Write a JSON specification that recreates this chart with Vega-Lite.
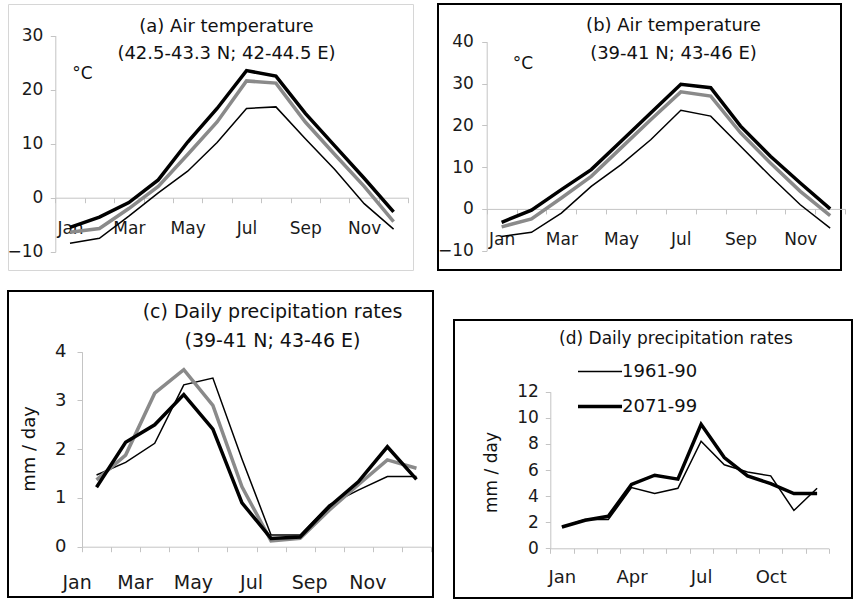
{
  "$schema": "https://vega.github.io/schema/vega-lite/v6.json",
  "padding": {"left": 6, "top": 3, "right": 0, "bottom": 0},
  "background": "white",
  "config": {"font": "DejaVu Sans", "axis": {"labelFont": "DejaVu Sans", "titleFont": "DejaVu Sans"}, "legend": {"labelFont": "DejaVu Sans"}},
  "datasets": {
    "a": [
      {"month": "Jan", "series": "1961-90", "value": -8.4}, {"month": "Feb", "series": "1961-90", "value": -7.5}, {"month": "Mar", "series": "1961-90", "value": -3.4}, {"month": "Apr", "series": "1961-90", "value": 0.9}, {"month": "May", "series": "1961-90", "value": 4.9}, {"month": "Jun", "series": "1961-90", "value": 10.2}, {"month": "Jul", "series": "1961-90", "value": 16.5}, {"month": "Aug", "series": "1961-90", "value": 16.8}, {"month": "Sep", "series": "1961-90", "value": 10.9}, {"month": "Oct", "series": "1961-90", "value": 5.2}, {"month": "Nov", "series": "1961-90", "value": -1.1}, {"month": "Dec", "series": "1961-90", "value": -5.8},
      {"month": "Jan", "series": "2071-99 (low)", "value": -6.4}, {"month": "Feb", "series": "2071-99 (low)", "value": -5.7}, {"month": "Mar", "series": "2071-99 (low)", "value": -2.0}, {"month": "Apr", "series": "2071-99 (low)", "value": 2.1}, {"month": "May", "series": "2071-99 (low)", "value": 8.0}, {"month": "Jun", "series": "2071-99 (low)", "value": 14.0}, {"month": "Jul", "series": "2071-99 (low)", "value": 21.6}, {"month": "Aug", "series": "2071-99 (low)", "value": 21.2}, {"month": "Sep", "series": "2071-99 (low)", "value": 14.0}, {"month": "Oct", "series": "2071-99 (low)", "value": 8.0}, {"month": "Nov", "series": "2071-99 (low)", "value": 2.1}, {"month": "Dec", "series": "2071-99 (low)", "value": -4.4},
      {"month": "Jan", "series": "2071-99", "value": -5.5}, {"month": "Feb", "series": "2071-99", "value": -3.6}, {"month": "Mar", "series": "2071-99", "value": -0.9}, {"month": "Apr", "series": "2071-99", "value": 3.3}, {"month": "May", "series": "2071-99", "value": 10.3}, {"month": "Jun", "series": "2071-99", "value": 16.5}, {"month": "Jul", "series": "2071-99", "value": 23.5}, {"month": "Aug", "series": "2071-99", "value": 22.5}, {"month": "Sep", "series": "2071-99", "value": 15.6}, {"month": "Oct", "series": "2071-99", "value": 9.6}, {"month": "Nov", "series": "2071-99", "value": 3.6}, {"month": "Dec", "series": "2071-99", "value": -2.6}
    ],
    "b": [
      {"month": "Jan", "series": "1961-90", "value": -6.6}, {"month": "Feb", "series": "1961-90", "value": -5.6}, {"month": "Mar", "series": "1961-90", "value": -1.0}, {"month": "Apr", "series": "1961-90", "value": 5.4}, {"month": "May", "series": "1961-90", "value": 10.6}, {"month": "Jun", "series": "1961-90", "value": 16.6}, {"month": "Jul", "series": "1961-90", "value": 23.6}, {"month": "Aug", "series": "1961-90", "value": 22.2}, {"month": "Sep", "series": "1961-90", "value": 15.0}, {"month": "Oct", "series": "1961-90", "value": 7.8}, {"month": "Nov", "series": "1961-90", "value": 1.0}, {"month": "Dec", "series": "1961-90", "value": -4.6},
      {"month": "Jan", "series": "2071-99 (low)", "value": -4.3}, {"month": "Feb", "series": "2071-99 (low)", "value": -2.4}, {"month": "Mar", "series": "2071-99 (low)", "value": 2.6}, {"month": "Apr", "series": "2071-99 (low)", "value": 7.8}, {"month": "May", "series": "2071-99 (low)", "value": 14.6}, {"month": "Jun", "series": "2071-99 (low)", "value": 21.4}, {"month": "Jul", "series": "2071-99 (low)", "value": 28.0}, {"month": "Aug", "series": "2071-99 (low)", "value": 27.0}, {"month": "Sep", "series": "2071-99 (low)", "value": 18.2}, {"month": "Oct", "series": "2071-99 (low)", "value": 11.0}, {"month": "Nov", "series": "2071-99 (low)", "value": 4.2}, {"month": "Dec", "series": "2071-99 (low)", "value": -1.6},
      {"month": "Jan", "series": "2071-99", "value": -3.2}, {"month": "Feb", "series": "2071-99", "value": -0.3}, {"month": "Mar", "series": "2071-99", "value": 4.6}, {"month": "Apr", "series": "2071-99", "value": 9.4}, {"month": "May", "series": "2071-99", "value": 16.2}, {"month": "Jun", "series": "2071-99", "value": 23.0}, {"month": "Jul", "series": "2071-99", "value": 29.8}, {"month": "Aug", "series": "2071-99", "value": 29.0}, {"month": "Sep", "series": "2071-99", "value": 19.8}, {"month": "Oct", "series": "2071-99", "value": 12.6}, {"month": "Nov", "series": "2071-99", "value": 6.2}, {"month": "Dec", "series": "2071-99", "value": 0.0}
    ],
    "c": [
      {"month": "Jan", "series": "1961-90", "value": 1.47}, {"month": "Feb", "series": "1961-90", "value": 1.73}, {"month": "Mar", "series": "1961-90", "value": 2.12}, {"month": "Apr", "series": "1961-90", "value": 3.32}, {"month": "May", "series": "1961-90", "value": 3.46}, {"month": "Jun", "series": "1961-90", "value": 1.8}, {"month": "Jul", "series": "1961-90", "value": 0.24}, {"month": "Aug", "series": "1961-90", "value": 0.24}, {"month": "Sep", "series": "1961-90", "value": 0.86}, {"month": "Oct", "series": "1961-90", "value": 1.16}, {"month": "Nov", "series": "1961-90", "value": 1.44}, {"month": "Dec", "series": "1961-90", "value": 1.44},
      {"month": "Jan", "series": "2071-99 (low)", "value": 1.37}, {"month": "Feb", "series": "2071-99 (low)", "value": 1.88}, {"month": "Mar", "series": "2071-99 (low)", "value": 3.15}, {"month": "Apr", "series": "2071-99 (low)", "value": 3.63}, {"month": "May", "series": "2071-99 (low)", "value": 2.9}, {"month": "Jun", "series": "2071-99 (low)", "value": 1.23}, {"month": "Jul", "series": "2071-99 (low)", "value": 0.12}, {"month": "Aug", "series": "2071-99 (low)", "value": 0.17}, {"month": "Sep", "series": "2071-99 (low)", "value": 0.75}, {"month": "Oct", "series": "2071-99 (low)", "value": 1.27}, {"month": "Nov", "series": "2071-99 (low)", "value": 1.78}, {"month": "Dec", "series": "2071-99 (low)", "value": 1.61},
      {"month": "Jan", "series": "2071-99", "value": 1.22}, {"month": "Feb", "series": "2071-99", "value": 2.14}, {"month": "Mar", "series": "2071-99", "value": 2.5}, {"month": "Apr", "series": "2071-99", "value": 3.12}, {"month": "May", "series": "2071-99", "value": 2.41}, {"month": "Jun", "series": "2071-99", "value": 0.9}, {"month": "Jul", "series": "2071-99", "value": 0.17}, {"month": "Aug", "series": "2071-99", "value": 0.2}, {"month": "Sep", "series": "2071-99", "value": 0.82}, {"month": "Oct", "series": "2071-99", "value": 1.33}, {"month": "Nov", "series": "2071-99", "value": 2.05}, {"month": "Dec", "series": "2071-99", "value": 1.38}
    ],
    "d": [
      {"month": "Jan", "series": "1961-90", "value": 1.63}, {"month": "Feb", "series": "1961-90", "value": 2.2}, {"month": "Mar", "series": "1961-90", "value": 2.2}, {"month": "Apr", "series": "1961-90", "value": 4.65}, {"month": "May", "series": "1961-90", "value": 4.2}, {"month": "Jun", "series": "1961-90", "value": 4.6}, {"month": "Jul", "series": "1961-90", "value": 8.2}, {"month": "Aug", "series": "1961-90", "value": 6.4}, {"month": "Sep", "series": "1961-90", "value": 5.85}, {"month": "Oct", "series": "1961-90", "value": 5.55}, {"month": "Nov", "series": "1961-90", "value": 2.9}, {"month": "Dec", "series": "1961-90", "value": 4.6},
      {"month": "Jan", "series": "2071-99", "value": 1.63}, {"month": "Feb", "series": "2071-99", "value": 2.15}, {"month": "Mar", "series": "2071-99", "value": 2.45}, {"month": "Apr", "series": "2071-99", "value": 4.9}, {"month": "May", "series": "2071-99", "value": 5.6}, {"month": "Jun", "series": "2071-99", "value": 5.3}, {"month": "Jul", "series": "2071-99", "value": 9.5}, {"month": "Aug", "series": "2071-99", "value": 6.95}, {"month": "Sep", "series": "2071-99", "value": 5.55}, {"month": "Oct", "series": "2071-99", "value": 4.95}, {"month": "Nov", "series": "2071-99", "value": 4.2}, {"month": "Dec", "series": "2071-99", "value": 4.2}
    ]
  },
  "spacing": 19,
  "resolve": {"scale": {"x": "independent", "y": "independent", "strokeWidth": "independent"}, "axis": {"x": "independent", "y": "independent"}, "legend": {"strokeWidth": "independent"}},
  "vconcat": [
    {
      "spacing": 22,
      "resolve": {"scale": {"x": "independent", "y": "independent", "strokeWidth": "independent"}, "axis": {"x": "independent", "y": "independent"}, "legend": {"strokeWidth": "independent"}},
      "hconcat": [
        {
          "width": 405, "height": 266,
          "view": {"stroke": "#d6d6d6", "strokeWidth": 1},
          "title": {"text": ["(a) Air temperature", "(42.5-43.3 N; 42-44.5 E)"], "anchor": "middle", "frame": "group", "offset": -59, "dx": 16, "baseline": "top", "fontSize": 18, "fontWeight": "normal", "font": "DejaVu Sans", "color": "#111111", "lineHeight": 27},
          "data": {"name": "a"},
          "encoding": {
            "x": {"field": "month", "type": "ordinal", "sort": ["Jan","Feb","Mar","Apr","May","Jun","Jul","Aug","Sep","Oct","Nov","Dec"], "bandPosition": 0.5,
                  "scale": {"type": "band", "domain": ["Jan","Feb","Mar","Apr","May","Jun","Jul","Aug","Sep","Oct","Nov","Dec"], "range": [47.3, 400.3], "paddingInner": 0, "paddingOuter": 0},
                  "axis": {"orient": "bottom", "offset": -72.3, "title": null, "grid": false, "tickBand": "extent", "tickSize": 5, "domainColor": "#c4c4c4", "tickColor": "#c4c4c4", "labelAngle": 0, "labelBaseline": "middle", "labelPadding": 26, "labelFontSize": 17, "labelColor": "#1a1a1a", "labelOverlap": false, "labelExpr": "indexof(['Jan','Mar','May','Jul','Sep','Nov'], datum.value) >= 0 ? datum.value : ''"}},
            "y": {"field": "value", "type": "quantitative",
                  "scale": {"domain": [-10, 30], "range": [247.8, 31.5], "nice": false, "zero": false},
                  "axis": {"orient": "left", "offset": -47.3, "values": [-10, 0, 10, 20, 30], "grid": false, "tickSize": 5, "domainColor": "#c4c4c4", "tickColor": "#c4c4c4", "labelPadding": 7.5, "labelFontSize": 17, "labelColor": "#1a1a1a", "labelFlush": false, "labelOverlap": false,
                           "title": "°C", "titleAngle": 0, "titleX": 26.7, "titleY": 69.5, "titleAlign": "center", "titleBaseline": "middle", "titleFontSize": 17, "titleFontWeight": "normal", "titleColor": "#111111"}}
          },
          "layer": [
            {"transform": [{"filter": "datum.series === '1961-90'"}], "mark": {"type": "line", "color": "black", "strokeWidth": 1.5}},
            {"transform": [{"filter": "datum.series === '2071-99 (low)'"}], "mark": {"type": "line", "color": "#8a8a8a", "strokeWidth": 3.5}},
            {"transform": [{"filter": "datum.series === '2071-99'"}], "mark": {"type": "line", "color": "black", "strokeWidth": 3.5}}
          ]
        },
        {
          "width": 403, "height": 266,
          "view": {"stroke": "black", "strokeWidth": 2},
          "title": {"text": ["(b) Air temperature", "(39-41 N; 43-46 E)"], "anchor": "middle", "frame": "group", "offset": -59, "dx": 34, "baseline": "top", "fontSize": 18, "fontWeight": "normal", "font": "DejaVu Sans", "color": "#111111", "lineHeight": 28},
          "data": {"name": "b"},
          "encoding": {
            "x": {"field": "month", "type": "ordinal", "sort": ["Jan","Feb","Mar","Apr","May","Jun","Jul","Aug","Sep","Oct","Nov","Dec"], "bandPosition": 0.5,
                  "scale": {"type": "band", "domain": ["Jan","Feb","Mar","Apr","May","Jun","Jul","Aug","Sep","Oct","Nov","Dec"], "range": [48.7, 407.1], "paddingInner": 0, "paddingOuter": 0},
                  "axis": {"orient": "bottom", "offset": -61.1, "title": null, "grid": false, "tickBand": "extent", "tickSize": 5, "domainColor": "#c4c4c4", "tickColor": "#c4c4c4", "labelAngle": 0, "labelBaseline": "middle", "labelPadding": 25.7, "labelFontSize": 17, "labelColor": "#1a1a1a", "labelOverlap": false, "labelExpr": "indexof(['Jan','Mar','May','Jul','Sep','Nov'], datum.value) >= 0 ? datum.value : ''"}},
            "y": {"field": "value", "type": "quantitative",
                  "scale": {"domain": [-10, 40], "range": [246.7, 37.7], "nice": false, "zero": false},
                  "axis": {"orient": "left", "offset": -48.7, "values": [-10, 0, 10, 20, 30, 40], "grid": false, "tickSize": 5, "domainColor": "#c4c4c4", "tickColor": "#c4c4c4", "labelPadding": 8.4, "labelFontSize": 17, "labelColor": "#1a1a1a", "labelFlush": false, "labelOverlap": false,
                           "title": "°C", "titleAngle": 0, "titleX": 35.8, "titleY": 59.5, "titleAlign": "center", "titleBaseline": "middle", "titleFontSize": 17, "titleFontWeight": "normal", "titleColor": "#111111"}}
          },
          "layer": [
            {"transform": [{"filter": "datum.series === '1961-90'"}], "mark": {"type": "line", "color": "black", "strokeWidth": 1.5}},
            {"transform": [{"filter": "datum.series === '2071-99 (low)'"}], "mark": {"type": "line", "color": "#8a8a8a", "strokeWidth": 3.5}},
            {"transform": [{"filter": "datum.series === '2071-99'"}], "mark": {"type": "line", "color": "black", "strokeWidth": 3.5}}
          ]
        }
      ]
    },
    {
      "spacing": 19,
      "resolve": {"scale": {"x": "independent", "y": "independent", "strokeWidth": "independent"}, "axis": {"x": "independent", "y": "independent"}, "legend": {"strokeWidth": "independent"}},
      "hconcat": [
        {
          "width": 425, "height": 306,
          "view": {"stroke": "black", "strokeWidth": 2},
          "title": {"text": ["(c) Daily precipitation rates", "(39-41 N; 43-46 E)"], "anchor": "middle", "frame": "group", "offset": -60, "dx": 52, "baseline": "top", "fontSize": 19, "fontWeight": "normal", "font": "DejaVu Sans", "color": "#111111", "lineHeight": 29},
          "data": {"name": "c"},
          "encoding": {
            "x": {"field": "month", "type": "ordinal", "sort": ["Jan","Feb","Mar","Apr","May","Jun","Jul","Aug","Sep","Oct","Nov","Dec"], "bandPosition": 0.5,
                  "scale": {"type": "band", "domain": ["Jan","Feb","Mar","Apr","May","Jun","Jul","Aug","Sep","Oct","Nov","Dec"], "range": [74, 423], "paddingInner": 0, "paddingOuter": 0},
                  "axis": {"orient": "bottom", "offset": -50.3, "title": null, "grid": false, "tickBand": "extent", "tickSize": 5, "domainColor": "#c4c4c4", "tickColor": "#c4c4c4", "labelAngle": 0, "labelBaseline": "middle", "labelPadding": 31, "labelOffset": -20, "labelFontSize": 19, "labelColor": "#1a1a1a", "labelOverlap": false, "labelExpr": "indexof(['Jan','Mar','May','Jul','Sep','Nov'], datum.value) >= 0 ? datum.value : ''"}},
            "y": {"field": "value", "type": "quantitative",
                  "scale": {"domain": [0, 4], "range": [255.7, 60.7], "nice": false, "zero": false},
                  "axis": {"orient": "left", "offset": -74, "values": [0, 1, 2, 3, 4], "grid": false, "tickSize": 5, "domainColor": "#c4c4c4", "tickColor": "#c4c4c4", "labelPadding": 11, "labelFontSize": 18, "labelColor": "#1a1a1a", "labelFlush": false, "labelOverlap": false,
                           "title": "mm / day", "titleAngle": -90, "titleX": -52.5, "titleY": 157.5, "titleAlign": "center", "titleBaseline": "middle", "titleFontSize": 18, "titleFontWeight": "normal", "titleColor": "#111111"}}
          },
          "layer": [
            {"transform": [{"filter": "datum.series === '1961-90'"}], "mark": {"type": "line", "color": "black", "strokeWidth": 1.5}},
            {"transform": [{"filter": "datum.series === '2071-99 (low)'"}], "mark": {"type": "line", "color": "#8a8a8a", "strokeWidth": 3.5}},
            {"transform": [{"filter": "datum.series === '2071-99'"}], "mark": {"type": "line", "color": "black", "strokeWidth": 3.5}}
          ]
        },
        {
          "spacing": 27,
          "resolve": {"scale": {"x": "independent", "y": "independent", "strokeWidth": "independent"}, "axis": {"x": "independent", "y": "independent"}, "legend": {"strokeWidth": "independent"}},
          "vconcat": [
            {"width": 1, "height": 1, "view": {"stroke": null}, "data": {"values": []}, "mark": "point"},
            {
              "width": 398, "height": 278,
              "view": {"stroke": "black", "strokeWidth": 2},
              "title": {"text": "(d) Daily precipitation rates", "anchor": "middle", "frame": "group", "offset": -28, "dx": 23, "baseline": "top", "fontSize": 17, "fontWeight": "normal", "font": "DejaVu Sans", "color": "#111111"},
              "data": {"name": "d"},
              "mark": {"type": "line", "color": "black"},
              "encoding": {
                "x": {"field": "month", "type": "ordinal", "sort": ["Jan","Feb","Mar","Apr","May","Jun","Jul","Aug","Sep","Oct","Nov","Dec"], "bandPosition": 0.5,
                      "scale": {"type": "band", "domain": ["Jan","Feb","Mar","Apr","May","Jun","Jul","Aug","Sep","Oct","Nov","Dec"], "range": [96.3, 374.7], "paddingInner": 0, "paddingOuter": 0},
                      "axis": {"orient": "bottom", "offset": -49.7, "title": null, "grid": false, "tickBand": "extent", "tickSize": 5, "domainColor": "#c4c4c4", "tickColor": "#c4c4c4", "labelAngle": 0, "labelBaseline": "middle", "labelPadding": 24.4, "labelFontSize": 18, "labelColor": "#1a1a1a", "labelOverlap": false, "labelExpr": "indexof(['Jan','Apr','Jul','Oct'], datum.value) >= 0 ? datum.value : ''"}},
                "y": {"field": "value", "type": "quantitative",
                      "scale": {"domain": [0, 12], "range": [228.3, 71.7], "nice": false, "zero": false},
                      "axis": {"orient": "left", "offset": -96.3, "values": [0, 2, 4, 6, 8, 10, 12], "grid": false, "tickSize": 5, "domainColor": "#c4c4c4", "tickColor": "#c4c4c4", "labelPadding": 7, "labelFontSize": 17, "labelColor": "#1a1a1a", "labelFlush": false, "labelOverlap": false,
                               "title": "mm / day", "titleAngle": -90, "titleX": -58.8, "titleY": 152, "titleAlign": "center", "titleBaseline": "middle", "titleFontSize": 17, "titleFontWeight": "normal", "titleColor": "#111111"}},
                "strokeWidth": {"field": "series", "type": "ordinal",
                                "scale": {"domain": ["1961-90", "2071-99"], "range": [1.5, 3.5]},
                                "legend": {"title": null, "orient": "none", "legendX": 122, "legendY": 34, "symbolType": "stroke", "symbolSize": 1936, "symbolStrokeColor": "black", "labelFontSize": 18, "labelColor": "#111111", "labelOffset": -2, "padding": 0, "clipHeight": 35, "rowPadding": 0}}
              }
            }
          ]
        }
      ]
    }
  ]
}
